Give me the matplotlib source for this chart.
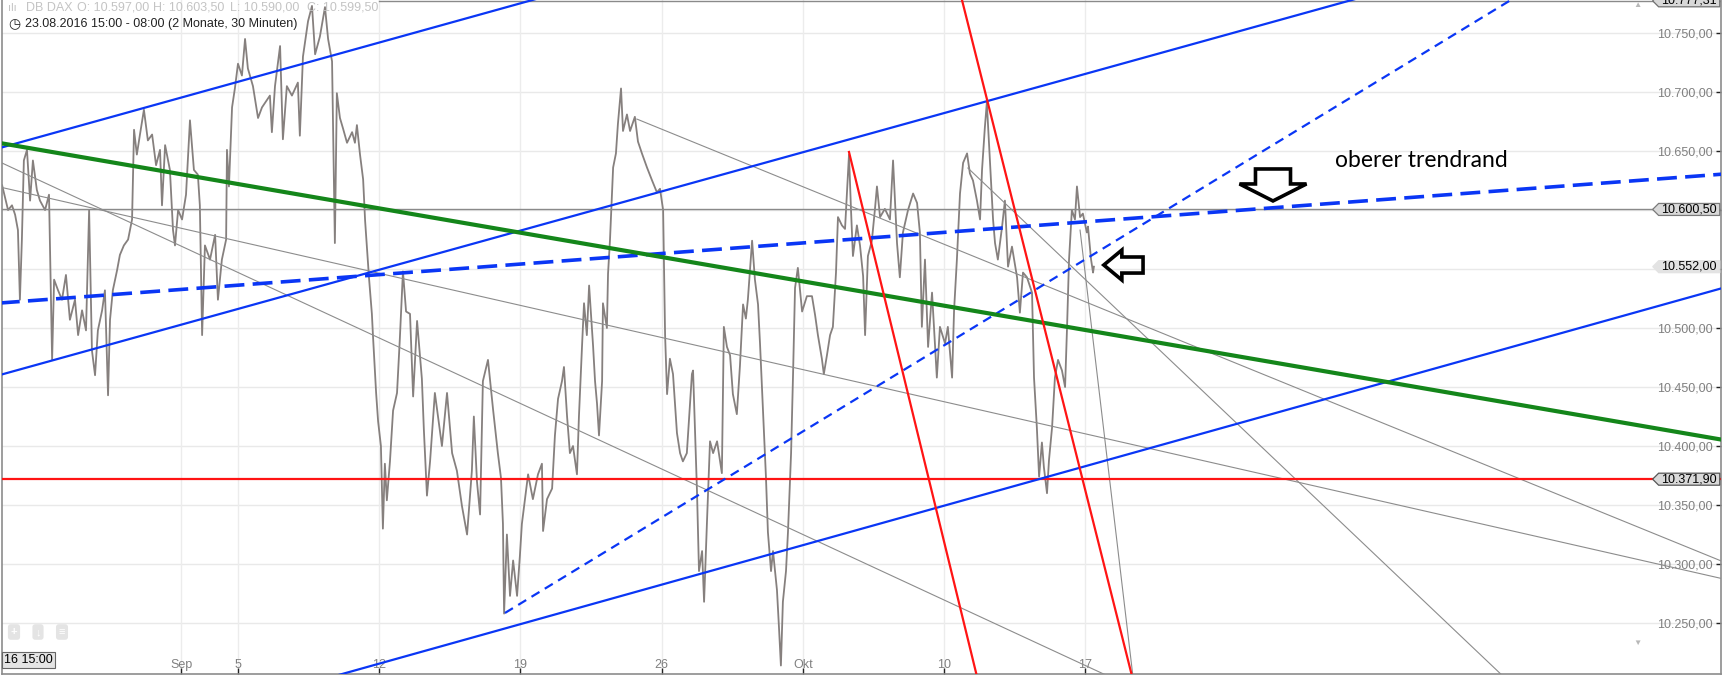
import matplotlib
matplotlib.use('Agg')
import matplotlib.pyplot as plt
from matplotlib.path import Path
from matplotlib.patches import FancyArrow
from matplotlib.ticker import FixedLocator, FuncFormatter

plt.rcParams['font.family'] = ['Liberation Sans', 'DejaVu Sans']

# DB DAX, 30 min bars; x = trading days counted from Mon 5 Sep 2016
price_days = [
    -8.35, -8.14, -8.00, -7.89, -7.79, -7.72, -7.65, -7.58, -7.47, -7.36, -7.26, -7.12, -7.01, -6.83, -6.69,
    -6.58, -6.51, -6.37, -6.23, -6.09, -5.95, -5.77, -5.66, -5.52, -5.38, -5.27, -5.17, -5.06, -4.96, -4.81,
    -4.71, -4.60, -4.53, -4.43, -4.28, -4.18, -4.04, -3.89, -3.75, -3.68, -3.58, -3.47, -3.33, -3.19, -3.04,
    -2.90, -2.76, -2.69, -2.58, -2.41, -2.30, -2.23, -2.12, -1.98, -1.84, -1.70, -1.56, -1.42, -1.35, -1.27,
    -1.17, -0.99, -0.81, -0.71, -0.57, -0.42,
    -0.39, -0.32, -0.21, -0.11, 0.00, 0.14, 0.25, 0.35, 0.53, 0.71, 0.85, 1.13, 1.20, 1.31, 1.49, 1.59, 1.73,
    1.91, 2.12, 2.19, 2.30, 2.48, 2.62, 2.73, 2.90, 3.08, 3.19, 3.33, 3.43, 3.50, 3.61, 3.72, 3.86, 4.04,
    4.14, 4.21, 4.32, 4.43, 4.50, 4.57, 4.64, 4.74, 4.78, 4.89, 4.96, 5.06, 5.13, 5.20, 5.27, 5.38, 5.49,
    5.63, 5.73, 5.84, 5.95, 6.09, 6.20, 6.34, 6.51, 6.58, 6.69, 6.80, 6.97, 7.22, 7.40,
    7.58, 7.75, 7.93, 8.11, 8.28, 8.35, 8.46, 8.57, 8.67, 8.85, 9.03, 9.20, 9.31, 9.38, 9.42, 9.52, 9.63,
    9.74, 9.88, 9.98, 10.05, 10.16, 10.27, 10.44, 10.62, 10.76, 10.80, 10.94, 11.12, 11.22, 11.33, 11.47,
    11.54, 11.65, 11.75, 11.86, 12.00, 12.07, 12.18, 12.25, 12.35, 12.43, 12.57, 12.64, 12.71, 12.78, 12.89,
    12.92, 13.06, 13.10, 13.17, 13.28, 13.38, 13.45, 13.56, 13.63, 13.77, 13.88, 14.05, 14.16, 14.30, 14.48,
    14.66, 14.83, 14.94, 15.05,
    15.12, 15.19, 15.29, 15.40, 15.54, 15.65, 15.75, 15.89, 16.07, 16.11, 16.25, 16.32, 16.43, 16.50, 16.60,
    16.71, 16.82, 16.96, 17.13, 17.20, 17.31, 17.42, 17.52, 17.66, 17.77, 17.88, 17.98, 18.05, 18.20, 18.30,
    18.41, 18.48, 18.59, 18.69, 18.76, 18.87, 18.94, 19.08, 19.15, 19.22, 19.29, 19.40, 19.47, 19.58, 19.65,
    19.72, 19.82, 19.97, 20.14, 20.32, 20.43, 20.53, 20.67, 20.74, 20.85, 20.96, 21.06, 21.17, 21.24, 21.38,
    21.49, 21.63, 21.70, 21.77, 21.91, 22.02, 22.13, 22.20, 22.30, 22.44, 22.55, 22.62, 22.73,
    22.90, 23.08, 23.19, 23.33, 23.43, 23.54, 23.72, 23.90, 24.04, 24.14, 24.21, 24.32, 24.43, 24.57, 24.67,
    24.74, 24.85, 25.03, 25.13, 25.28, 25.35, 25.45, 25.56, 25.67, 25.81, 25.91, 26.02, 26.16, 26.27, 26.34,
    26.44, 26.51, 26.62, 26.73, 26.80, 26.90, 27.05, 27.15, 27.26, 27.40, 27.58, 27.68, 27.79, 27.93, 28.11,
    28.18, 28.28, 28.36, 28.46, 28.53, 28.64, 28.71, 28.82, 28.92, 29.03, 29.17, 29.28, 29.35, 29.42, 29.52,
    29.63, 29.70, 29.81, 29.91, 30.05, 30.09, 30.20, 30.27, 30.30,
]
price_close = [
    10621, 10600, 10604, 10596, 10583, 10524, 10575, 10642, 10651, 10608, 10642, 10617, 10608, 10600, 10613,
    10473, 10541, 10532, 10524, 10545, 10507, 10524, 10494, 10515, 10498, 10600, 10481, 10460, 10498, 10515,
    10532, 10443, 10507, 10532, 10549, 10562, 10570, 10575, 10592, 10668, 10647, 10664, 10685, 10659, 10664,
    10638, 10651, 10604, 10655, 10634, 10583, 10570, 10600, 10592, 10613, 10676, 10634, 10630, 10604, 10494,
    10570, 10558, 10579, 10524, 10558, 10575,
    10651, 10620, 10687, 10703, 10724, 10714, 10745, 10720, 10705, 10678, 10687, 10697, 10666, 10705, 10739,
    10660, 10705, 10697, 10708, 10663, 10730, 10760, 10773, 10732, 10747, 10772, 10745, 10726, 10572, 10699,
    10678, 10669, 10657, 10666, 10657, 10672, 10647, 10626, 10591, 10566, 10542, 10512, 10493, 10445, 10421,
    10400, 10330, 10385, 10354, 10387, 10430, 10445, 10491, 10548, 10514, 10512, 10442, 10506, 10457, 10414,
    10358, 10387, 10445, 10400, 10445,
    10394, 10379, 10349, 10325, 10379, 10425, 10370, 10342, 10455, 10473, 10431, 10394, 10373, 10334, 10258,
    10325, 10273, 10303, 10273, 10307, 10334, 10355, 10376, 10355, 10376, 10385, 10328, 10355, 10364, 10409,
    10440, 10455, 10467, 10425, 10394, 10400, 10376, 10425, 10485, 10521, 10494, 10536, 10485, 10455, 10436,
    10409, 10455, 10521, 10500, 10546, 10575, 10636, 10648, 10673, 10703, 10667, 10681, 10667, 10679, 10658,
    10648, 10636, 10625, 10615, 10618, 10600,
    10494, 10444, 10474, 10461, 10411, 10394, 10387, 10394, 10461, 10464, 10361, 10294, 10311, 10268, 10334,
    10404, 10394, 10404, 10377, 10501, 10484, 10477, 10444, 10427, 10468, 10520, 10508, 10524, 10574, 10541,
    10520, 10487, 10427, 10374, 10327, 10294, 10311, 10278, 10247, 10214, 10268, 10294, 10327, 10394, 10461,
    10534, 10551, 10514, 10527, 10527, 10511, 10494, 10474, 10461, 10477, 10494, 10501, 10547, 10594, 10587,
    10584, 10647, 10601, 10561, 10587, 10570, 10544, 10494, 10561, 10574, 10601, 10620, 10594,
    10601, 10592, 10642, 10572, 10543, 10581, 10600, 10614, 10606, 10581, 10501, 10558, 10484, 10530, 10487,
    10458, 10501, 10487, 10501, 10458, 10515, 10558, 10614, 10640, 10648, 10631, 10625, 10608, 10592, 10634,
    10670, 10691, 10642, 10592, 10572, 10558, 10586, 10608, 10552, 10569, 10543, 10513, 10547, 10543, 10530,
    10458, 10416, 10374, 10403, 10382, 10360, 10388, 10416, 10458, 10473, 10464, 10450, 10501, 10558, 10600,
    10592, 10620, 10594, 10597, 10581, 10586, 10558, 10547, 10552,
]

# drawn trend lines: (day, price) end points
blue_upper = [(-8.43, 10652.6), (12.0, 10788.5)]
blue_middle = [(-8.43, 10460.2), (40.0, 10781.8)]
blue_lower = [(3.0, 10202.2), (52.6, 10534.2)]
blue_dash_wide = [(-8.43, 10521.2), (52.6, 10630.5)]
blue_dash_thin = [(9.45, 10258.5), (46.0, 10791.7)]
green_line = [(-8.43, 10656.8), (52.6, 10405.1)]
grey_lines = [
    [(-8.43, 10619.5), (52.6, 10287.3)],
    [(-8.43, 10640.7), (31.5, 10197.3)],
    [(14.12, 10677.1), (52.6, 10301.7)],
    [(25.84, 10635.6), (45.2, 10195.5)],
    [(29.81, 10583.0), (31.75, 10191.0)],
]
red_steep = [
    [(21.63, 10649.2), (26.3, 10191.0)],
    [(25.5, 10790.4), (31.8, 10190.7)],
]
red_level = 10371.90
last_price = 10600.50
close_price = 10552.00
top_price = 10777.31
top_line_start = 5.0

y_ticks = [10250, 10300, 10350, 10400, 10450, 10500, 10550, 10600, 10650, 10700, 10750]
x_ticks = [-2, 0, 5, 10, 15, 20, 25, 30]
x_labels = ['Sep', '5', '12', '19', '26', 'Okt', '10', '17']
tag_values = [top_price, last_price, close_price, red_level]

W, H = 1723, 676
fig = plt.figure(figsize=(W / 100, H / 100), dpi=100)
ax = fig.add_axes([2 / W, 2 / H, 1719 / W, 674 / H])
ax.set_xlim(-8.354, 52.50)
ax.set_ylim(10206.8, 10778.0)


def de_fmt(v, pos=None):
    s = f'{v:,.2f}'
    return s.replace(',', 'X').replace('.', ',').replace('X', '.')


def tick_fmt(v, pos=None):
    # labels hidden behind a price tag are not shown
    if any(abs(v - t) < 12 for t in tag_values):
        return ''
    return de_fmt(v)


# grid
for t in y_ticks:
    ax.axhline(t, color='#e9e9e9', lw=1, zorder=0)
for t in x_ticks:
    ax.axvline(t, color='#ececec', lw=1, zorder=0)

# price
ax.plot(price_days, price_close, color='#86807e', lw=1.3, zorder=2)

# horizontal levels
ax.axhline(last_price, color='#8a8a8a', lw=1, zorder=3)
ax.plot([top_line_start, 52.6], [top_price, top_price], color='#8a8a8a', lw=1, zorder=3)
ax.axhline(red_level, color='#ff1414', lw=1.6, zorder=4)

# trend lines
for seg in grey_lines:
    ax.plot(*zip(*seg), color='#8c8c8c', lw=0.8, zorder=3)
for seg in (blue_upper, blue_middle, blue_lower):
    ax.plot(*zip(*seg), color='#0a36f5', lw=1.6, zorder=4)
ax.plot(*zip(*blue_dash_wide), color='#0a36f5', lw=2.6, dashes=(5.5, 2.3), zorder=4)
ax.plot(*zip(*blue_dash_thin), color='#0a36f5', lw=1.6, dashes=(4.2, 2.8), zorder=4)
ax.plot(*zip(*green_line), color='#14861a', lw=3.0, zorder=4)
for seg in red_steep:
    ax.plot(*zip(*seg), color='#ff1414', lw=1.6, zorder=4)

# hand drawn arrows
ax.add_patch(FancyArrow(36.64, 10634.8, 0, -27.1, width=1.24, head_width=2.37, head_length=14.4,
                        length_includes_head=True, fill=False, ec='black', lw=2.6, joinstyle='miter', zorder=6))
ax.add_patch(FancyArrow(32.04, 10553.4, -1.39, 0, width=13.6, head_width=25.4, head_length=0.64,
                        length_includes_head=True, fill=False, ec='black', lw=2.6, joinstyle='miter', zorder=6))
ax.text(38.83, 10636.5, 'oberer trendrand', family=['Lato', 'DejaVu Sans'], fontsize=16.5,
        color='black', va='baseline', ha='left', zorder=6)

# axes styling
for sp in ax.spines.values():
    sp.set_color('#8c8c8c')
    sp.set_linewidth(1.2)
ax.spines['top'].set_visible(False)
ax.yaxis.tick_right()
ax.yaxis.set_major_locator(FixedLocator(y_ticks))
ax.yaxis.set_major_formatter(FuncFormatter(tick_fmt))
ax.tick_params(axis='y', direction='in', length=3.6, width=1, color='#222222',
               labelsize=9, labelcolor='#808080', pad=-6)
for lbl in ax.get_yticklabels():
    lbl.set_horizontalalignment('right')
ax.xaxis.set_major_locator(FixedLocator(x_ticks))
ax.set_xticklabels(x_labels)
ax.tick_params(axis='x', direction='in', length=4, width=1, color='#222222',
               labelsize=9, labelcolor='#808080', pad=-10.8)


# price tags on the right axis
def tag_box(x0, y0, width, height, mutation_size):
    pad = 0.22 * mutation_size
    x0, x1 = x0 - pad, x0 + width + pad
    y1 = y0 + height
    tip = height / 2
    ym = (y0 + y1) / 2
    return Path([(x0 - tip, ym), (x0, y0), (x1, y0), (x1, y1), (x0, y1), (x0 - tip, ym)], closed=True)


ytr = ax.get_yaxis_transform()
tag_x = 1715 / 1719
for val, fc, ec in [(top_price, '#d8d8d8', '#707070'), (last_price, '#d9d9d9', '#7a7a7a'),
                    (close_price, '#e3e3e3', '#e3e3e3'), (red_level, '#d9d9d9', '#555555')]:
    ax.text(tag_x, val, de_fmt(val), transform=ytr, ha='right', va='center', fontsize=9,
            color='black', zorder=8, bbox=dict(boxstyle=tag_box, fc=fc, ec=ec, lw=0.9))

# small ui icons
ax.text(1635 / 1719, 10773.5, '\u25B2', transform=ytr, ha='center', va='center', fontsize=6, color='#b8b8b8')
ax.text(1635 / 1719, 10233.0, '\u25BC', transform=ytr, ha='center', va='center', fontsize=6, color='#b8b8b8')
for i, sym in enumerate(['+', '\u2193', '\u2261']):
    ax.text((12 + 24 * i) / 1719, 42 / 674, sym, transform=ax.transAxes, ha='center', va='center',
            fontsize=8, color='white', fontweight='bold',
            bbox=dict(boxstyle='round,pad=0.25', fc='#e4e4e4', ec='none'))
ax.text(2 / 1719, 14 / 674, '16 15:00', transform=ax.transAxes, ha='left', va='center', fontsize=9,
        color='black', zorder=8, bbox=dict(boxstyle='square,pad=0.15', fc='#e4e4e4', ec='#666666', lw=0.8))

# header
hdr = '#c4c4c4'
fig.text(8 / W, 1 - 8 / H, 'ılı', fontsize=8, color=hdr, va='center')
for xpx, s in [(26, 'DB DAX'), (77, 'O: 10.597,00'), (153, 'H: 10.603,50'), (230, 'L: 10.590,00'),
               (307, 'C: 10.599,50')]:
    fig.text(xpx / W, 1 - 8 / H, s, fontsize=9, color=hdr, va='center')
fig.text(8 / W, 1 - 24 / H, '\u25F7', family=['DejaVu Sans'], fontsize=10, color='#222222', va='center')
fig.text(25 / W, 1 - 24 / H, '23.08.2016 15:00 - 08:00 (2 Monate, 30 Minuten)', fontsize=9,
         color='#222222', va='center')

fig.savefig('out.png', dpi=100)
